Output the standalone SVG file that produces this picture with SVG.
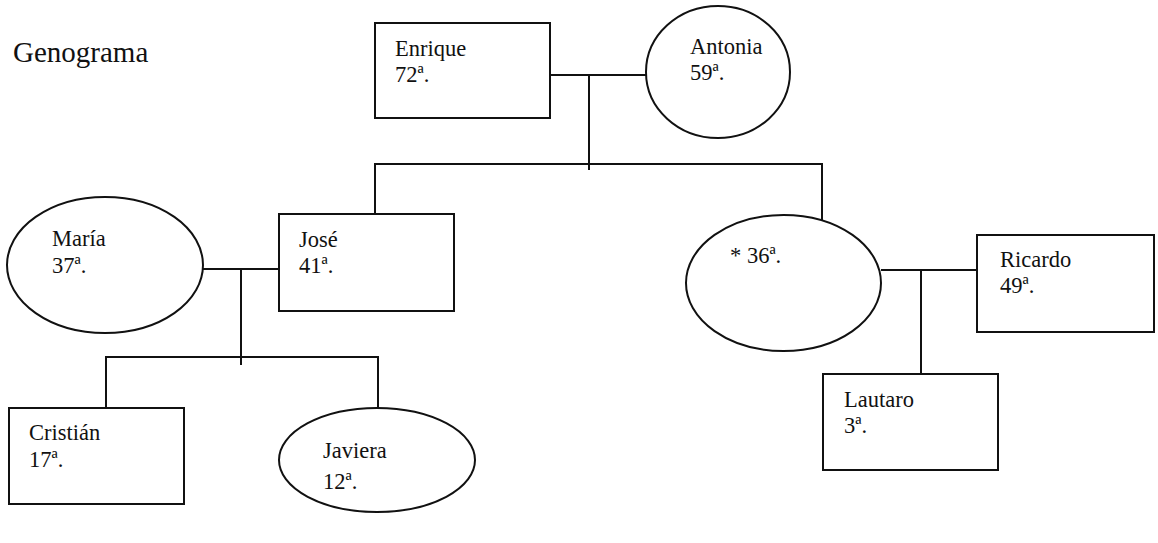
<svg xmlns="http://www.w3.org/2000/svg" width="1158" height="543" viewBox="0 0 1158 543">
<style>
.n{fill:#fff;stroke:#111;stroke-width:2}
.c{fill:none;stroke:#111;stroke-width:2}
text{font-family:"Liberation Serif","Times New Roman",serif;font-size:22.5px;fill:#111}
.t{font-size:29px}
</style>
<rect width="1158" height="543" fill="#fff"/>
<text class="t" x="13" y="62">Genograma</text>
<g id="connectors">
<path class="c" d="M550,75H646M589,75V170M375,214V164H822V220"/>
<path class="c" d="M202,269H279M241,269V365M106,408V357H378V408"/>
<path class="c" d="M881,270H977M921,270V374"/>
</g>
<g id="enrique"><rect class="n" x="375" y="23" width="175" height="95"/><text x="395" y="56">Enrique</text><text x="395" y="82">72ª.</text></g>
<g id="antonia"><ellipse class="n" cx="718" cy="72" rx="72" ry="66"/><text x="690" y="54">Antonia</text><text x="690" y="80">59ª.</text></g>
<g id="maria"><ellipse class="n" cx="105" cy="265" rx="98" ry="68"/><text x="52" y="246">María</text><text x="52" y="273">37ª.</text></g>
<g id="jose"><rect class="n" x="279" y="214" width="175" height="97"/><text x="299" y="247">José</text><text x="299" y="273">41ª.</text></g>
<g id="hija36"><ellipse class="n" cx="783.5" cy="283" rx="97.5" ry="68"/><text x="730" y="263">* 36ª.</text></g>
<g id="ricardo"><rect class="n" x="977" y="235" width="177" height="97"/><text x="1000" y="267">Ricardo</text><text x="1000" y="293">49ª.</text></g>
<g id="lautaro"><rect class="n" x="823" y="374" width="175" height="96"/><text x="844" y="407">Lautaro</text><text x="844" y="433">3ª.</text></g>
<g id="cristian"><rect class="n" x="9" y="408" width="175" height="96"/><text x="29" y="440">Cristián</text><text x="29" y="467">17ª.</text></g>
<g id="javiera"><ellipse class="n" cx="377" cy="460" rx="98" ry="52"/><text x="323" y="458">Javiera</text><text x="323" y="489">12ª.</text></g>
</svg>
